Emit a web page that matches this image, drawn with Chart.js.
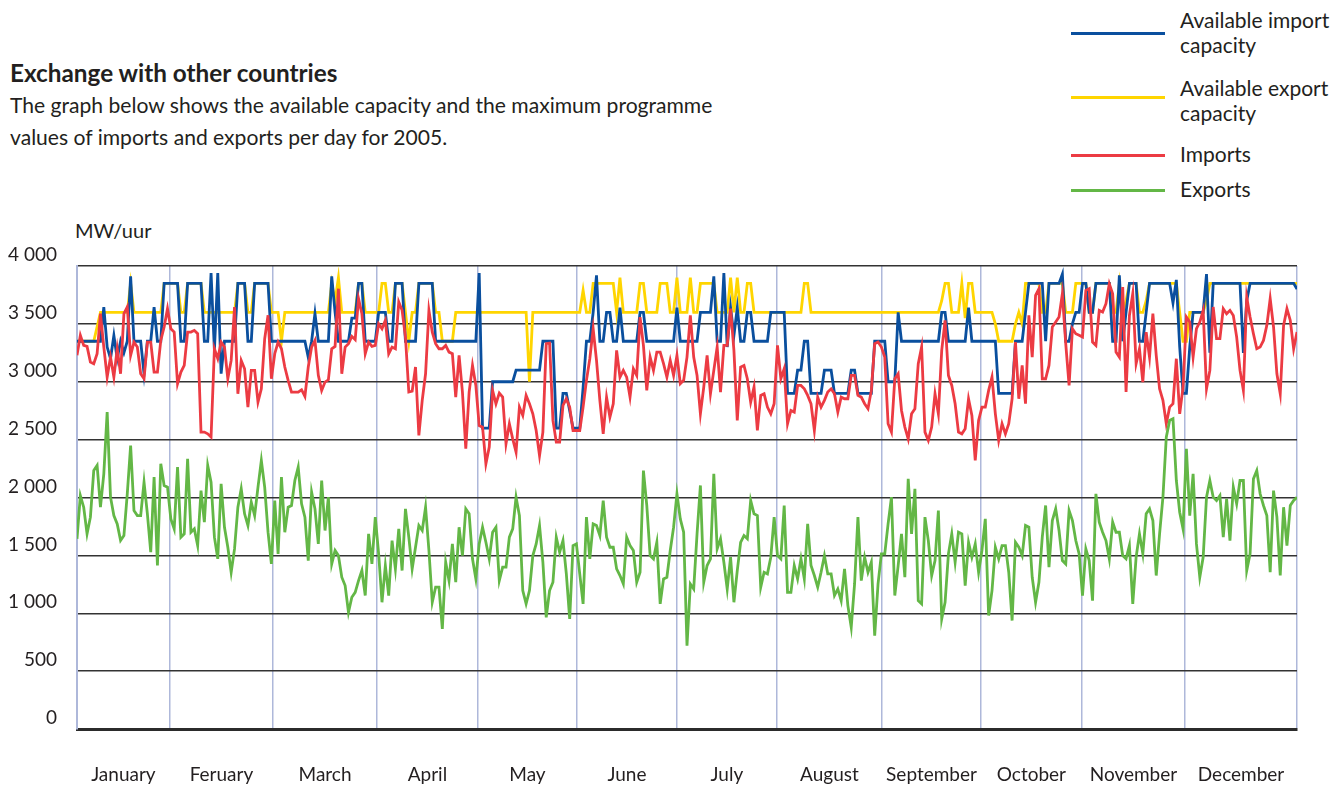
<!DOCTYPE html>
<html>
<head>
<meta charset="utf-8">
<script src="https://cdn.jsdelivr.net/npm/chart.js@4.4.1/dist/chart.umd.min.js"></script>
<style>
  html, body { margin: 0; padding: 0; background: #fff; }
  body { width: 1341px; height: 787px; position: relative; overflow: hidden;
         font-family: 'Lato', 'Open Sans', sans-serif; color: #231f20; }
  .abs { position: absolute; white-space: nowrap; }
  #title { left: 10px; top: 60px; font-size: 24.3px; font-weight: bold; line-height: 26px; }
  #sub { left: 10px; top: 89px; font-size: 21.1px; line-height: 32px; }
  #unit { left: 75px; top: 218px; font-size: 20px; line-height: 24px; }
  .lg-line { position: absolute; left: 1071px; width: 94px; height: 3px; }
  .lg-text { position: absolute; left: 1180px; font-size: 21px; line-height: 25px; white-space: nowrap; }
  #wrap { position: absolute; left: 0; top: 240px; width: 1341px; height: 547px; }
</style>
</head>
<body>
<div id="title" class="abs">Exchange with other countries</div>
<div id="sub" class="abs">The graph below shows the available capacity and the maximum programme<br>values of imports and exports per day for 2005.</div>
<div id="unit" class="abs">MW/uur</div>

<div class="lg-line" style="top:32px;background:#0a4f9e"></div>
<div class="lg-text" style="top:7px">Available import<br>capacity</div>
<div class="lg-line" style="top:96px;background:#ffd500"></div>
<div class="lg-text" style="top:75px">Available export<br>capacity</div>
<div class="lg-line" style="top:154px;background:#ec3b43"></div>
<div class="lg-text" style="top:141px">Imports</div>
<div class="lg-line" style="top:189px;background:#63b746"></div>
<div class="lg-text" style="top:176px">Exports</div>

<div id="wrap"><canvas id="c" width="1341" height="547"></canvas></div>

<script>
// ---- Data (MW per hour, daily values for 2005, day index 0..364) ----
const months = ['January','Feruary','March','April','May','June','July','August','September','October','November','December'];
// Month divider positions (in day units) as drawn in the reference
const monthEdges = [0, 27.7, 58.5, 89.5, 119.6, 149.2, 179, 208.8, 240.2, 269.7, 299.8, 330.6, 364];
const yTicks = [0, 500, 1000, 1500, 2000, 2500, 3000, 3500, 4000];

const importCapacity = [
3350,3350,3350,3350,3350,3350,3350,3350,3645,3300,3200,3400,3200,3350,3250,3350,3910,
3350,3350,3350,3070,3350,3350,3645,3350,3350,
3850,3850,3850,3850,3850,3350,3350,
3850,3850,3850,3850,3850,3350,3350,3940,3270,3940,3070,
3350,3350,3350,3350,3850,3850,3850,3350,3350,
3850,3850,3850,3850,3850,3350,3350,3350,
3350,3350,3350,3350,3350,3350,3350,3350,3210,3350,
3590,3350,3350,3350,3350,3910,3600,3350,3350,3350,
3350,3550,3550,3850,3850,3350,3350,3350,3350,3600,
3600,3600,3350,3350,3850,3850,3850,3350,3350,3350,
3350,3850,3850,3850,3850,3850,3350,3350,3350,3350,
3350,3350,3350,3350,3350,3350,3350,3350,3350,3940,
2600,2600,2600,3000,3000,3000,3000,3000,3000,3000,
3100,3100,3100,3100,3100,3100,3100,3100,3350,3350,
3350,3350,2600,2600,2900,2900,2750,2600,2600,2600,
2950,3350,3350,3600,3920,3350,3350,3600,3600,3350,
3350,3640,3350,3350,3350,3350,3350,3600,3600,3350,
3350,3350,3350,3350,3350,3350,3350,3350,3640,3350,
3350,3350,3350,3350,3350,3600,3600,3600,3600,3910,
3350,3350,3940,3300,3640,3400,3640,3350,3350,3600,
3600,3350,3350,3350,3350,3350,3600,3600,3600,3600,
3600,2900,2900,2900,3100,3100,3350,3350,2900,2900,
2900,2900,3100,3100,3100,2900,2900,2900,2900,2900,
3100,3100,2900,2900,2900,2900,2900,3350,3350,3350,
3350,3000,3000,3000,3600,3350,3350,3350,3350,3350,
3350,3350,3350,3350,3350,3350,3350,3600,3600,3350,
3350,3350,3350,3350,3350,3640,3350,3350,3350,3350,
3350,3350,3350,3350,2900,2900,2900,2900,2900,3350,
3350,3350,3600,3850,3850,3850,3850,3850,3350,3850,
3850,3850,3850,3930,3350,3350,3500,3600,3600,3850,
3850,3600,3600,3850,3850,3850,3850,3850,3350,3350,
3920,3350,3600,3850,3850,3850,3350,3350,3600,3850,
3850,3850,3850,3850,3850,3850,3680,3880,3300,2900,
2900,3300,3600,3600,3600,3600,3930,3250,3850,3850,
3850,3850,3850,3850,3850,3850,3850,3250,3700,3850,
3850,3850,3850,3850,3850,3850,3850,3850,3850,3850,
3850,3850,3850,3800
];

const exportCapacity = [
3350,3350,3350,3350,3350,3350,3475,3600,3600,3600,
3600,3600,3600,3600,3600,3600,3850,3600,3600,3600,
3600,3600,3600,3600,3600,3600,3850,3850,3850,3850,
3850,3600,3600,3850,3850,3850,3850,3850,3600,3600,
3600,3600,3600,3600,3600,3600,3600,3600,3850,3850,
3850,3600,3600,3850,3850,3850,3850,3850,3600,3600,
3600,3350,3600,3600,3600,3600,3600,3600,3600,3600,
3600,3600,3600,3600,3600,3600,3850,3700,3900,3600,
3600,3600,3600,3600,3850,3850,3600,3600,3600,3600,
3600,3850,3850,3600,3600,3850,3850,3850,3600,3350,
3600,3600,3850,3850,3850,3850,3850,3600,3600,3350,
3350,3350,3350,3600,3600,3600,3600,3600,3600,3600,
3600,3600,3600,3600,3600,3600,3600,3600,3600,3600,
3600,3600,3600,3600,3600,3000,3600,3600,3600,3600,
3600,3600,3600,3600,3600,3600,3600,3600,3600,3600,
3600,3790,3600,3600,3850,3850,3850,3850,3850,3850,
3850,3600,3900,3600,3600,3600,3600,3600,3850,3850,
3600,3600,3600,3600,3850,3850,3850,3600,3600,3900,
3600,3600,3600,3900,3600,3600,3850,3850,3850,3850,
3850,3600,3600,3600,3600,3900,3600,3900,3600,3600,
3850,3850,3600,3600,3600,3600,3600,3600,3600,3600,
3600,3600,3600,3600,3600,3600,3600,3850,3850,3600,
3600,3600,3600,3600,3600,3600,3600,3600,3600,3600,
3600,3600,3600,3600,3600,3600,3600,3600,3600,3600,
3600,3600,3600,3600,3600,3600,3600,3600,3600,3600,
3600,3600,3600,3600,3600,3600,3600,3600,3700,3850,
3850,3600,3600,3600,3850,3550,3850,3850,3600,3600,
3600,3600,3600,3600,3500,3350,3350,3350,3350,3350,
3500,3600,3500,3850,3850,3850,3850,3850,3600,3600,
3850,3850,3850,3850,3850,3600,3600,3600,3850,3850,
3850,3850,3600,3600,3850,3850,3850,3850,3850,3600,
3600,3850,3600,3700,3850,3850,3850,3600,3600,3700,
3850,3850,3850,3850,3850,3850,3850,3850,3850,3600,
3350,3350,3600,3600,3600,3600,3600,3700,3850,3850,
3850,3850,3850,3850,3850,3850,3850,3850,3850,3850,
3850,3850,3850,3850,3850,3850,3850,3850,3850,3850,
3850,3850,3850,3850,3850
];

const imports = [
3228,3401,3314,3305,3170,3156,3242,3588,3300,3040,
3213,3040,3285,3069,3588,3646,3228,3343,3300,3069,
3026,3343,3343,3084,3084,3357,3473,3631,3458,3429,
2983,3084,3141,3429,3429,3444,3415,2565,2565,2550,
2522,3285,3199,3343,3300,3026,3184,3646,2896,3184,
3112,2781,3098,3098,2824,2939,3372,3574,3026,3242,
3343,
3285,3127,3012,2911,2911,2911,2931,2873,3127,3300,
3357,3055,2925,2997,3017,3285,3305,3804,3069,3300,
3329,3392,3363,3718,3588,3242,3343,3305,3314,3501,
3458,3530,3242,3300,3285,3689,3617,3386,2911,2919,
3127,2536,2839,3069,3617,3429,3329,3285,3285,3314,
3256,3242,2867,3228,2911,2421,2911,3141,2968,2622,
2608,2291,2435,2925,2810,2902,2867,2464,2637,2507,
2392,2781,2709,2882,2810,2723,2579,2363,2565,3329,
3334,2666,2478,2478,2795,2853,2781,2579,2579,2579,
2781,3012,3199,3458,3184,2839,2550,2867,2694,2810,
3271,3040,3098,3040,2867,3112,3055,3559,3314,2925,
3213,3098,3256,3256,3156,3040,3184,3055,3228,2983,
3012,3213,3573,3213,3055,2723,2954,3228,2896,3098,
3300,2911,3314,3314,3631,3271,2666,3127,3141,3026,
2824,2954,2579,2882,2896,2781,2723,2810,3314,3026,
3112,2637,2752,2738,2968,2968,2939,2882,2810,2579,
2867,2781,2839,2911,2939,2896,2738,2867,2853,2853,
3055,3055,2882,2867,2810,2767,2925,3329,3343,3300,
3213,2637,2565,3026,3069,2752,2608,2507,2723,2767,
3156,3300,2565,2493,2608,2896,2723,3271,3530,3055,
2968,2810,2565,2550,2594,2853,2709,2320,2666,2781,
2781,2925,3040,2723,2493,2637,2550,2637,2853,3343,
2853,3141,2810,3573,3213,3746,3804,3026,3026,3141,
3473,3516,3559,3761,3329,2968,3458,3415,3401,
3386,3790,3804,3343,3314,3617,3602,3674,3847,3761,
3256,3213,3818,2911,3573,3761,3156,3285,2997,3429,
3213,3588,3228,2939,2839,2637,2781,2810,3199,2723,
2954,3559,3516,3213,3458,3516,3617,2939,3098,3646,
3372,3372,3631,3588,3617,3573,3386,3098,2925,3732,
3559,3415,3285,3300,3357,3487,3718,3473,3069,2896,
3487,3631,3530,3285,3429
];

const exports = [
1643,2017,1916,1686,1830,2233,2277,1916,2205,2738,
2003,1844,1772,1628,1671,2032,2449,1887,1844,1844,
2133,1859,1527,2176,1412,2291,2104,2089,1815,1729,
2262,1657,1686,2334,1700,1729,1585,2060,1787,2277,
2133,1657,1470,2118,1743,1570,1354,1556,1916,2075,
1859,1758,1959,1844,2089,2320,2089,1700,1426,1974,
1513,
2176,1700,1916,1931,2147,2262,1945,1830,1455,2046,
1902,1599,2147,1715,2003,1426,1542,1498,1311,1239,
1008,1138,1181,1282,1369,1153,1686,1426,1830,1513,
1095,1412,1153,1628,1383,1729,1369,1902,1657,1383,
1570,1758,1715,1916,1542,1095,1225,1225,864,1441,
1282,1599,1268,1743,1498,1902,1859,1470,1297,1599,
1743,1613,1470,1700,1743,1282,1398,1398,1657,1729,
2003,1844,1196,1081,1196,1498,1599,1758,1441,965,
1196,1268,1657,1527,1628,1340,951,1585,1599,1340,
1081,1830,1470,1772,1758,1671,1974,1657,1570,1570,
1383,1326,1254,1657,1585,1542,1268,1354,2233,1931,
1498,1470,1613,1081,1297,1311,1542,1743,2032,1815,
1700,720,1253,1210,1686,2104,1268,1412,1470,2205,
1556,1643,1441,1210,1484,1095,1369,1613,1671,1643,
1974,1859,1844,1225,1354,1340,1484,1830,1498,1470,
1931,1181,1181,1412,1297,1470,1297,1772,1412,1326,
1225,1354,1498,1340,1340,1153,1210,1109,1383,1066,
879,1253,1830,1282,1484,1354,1441,807,1253,1513,
1513,1772,2003,1153,1412,1686,1311,2161,1686,2075,
1109,1081,1830,1628,1326,1455,1887,951,1095,1513,
1686,1441,1700,1686,1239,1613,1484,1599,1354,1542,
1815,980,1196,1570,1470,1585,1585,1354,937,1613,
1570,1498,1758,1743,1311,1095,1268,1657,1931,1398,
1801,1902,1715,1455,1426,1887,1801,1628,1513,
1153,1556,1455,1109,2032,1787,1700,1628,1470,1787,
1700,1700,1498,1470,1585,1081,1484,1686,1513,1859,
1902,1801,1326,1686,2003,2521,2666,2680,2147,1873,
1729,2421,1844,2205,1599,1311,1484,2003,2147,2003,
1974,2017,1657,1988,1628,2089,1945,2147,2147,1369,
1513,2161,2233,2032,1931,1844,1354,2060,1830,1326,
1916,1585,1931,1974,2003
];

// ---- Build chart ----
const toPoints = arr => arr.map((v, i) => ({ x: i, y: v }));
const monthMids = months.map((m, i) => (monthEdges[i] + monthEdges[i + 1]) / 2);
const fmt = v => v >= 1000 ? Math.floor(v / 1000) + ' ' + String(v % 1000).padStart(3, '0') : String(v);

const FONT = "'Lato', 'Open Sans', sans-serif";
const lineDs = (label, data, color, order) => ({
  label, data: toPoints(data), borderColor: color, backgroundColor: color,
  borderWidth: 2.8, pointRadius: 0, tension: 0, fill: false, order,
  borderJoinStyle: 'miter'
});

new Chart(document.getElementById('c'), {
  type: 'line',
  data: {
    datasets: [
      lineDs('Exports', exports, '#63b746', 0),
      lineDs('Imports', imports, '#ec3b43', 1),
      lineDs('Available import capacity', importCapacity, '#0a4f9e', 2),
      lineDs('Available export capacity', exportCapacity, '#ffd500', 3)
    ]
  },
  options: {
    responsive: false,
    animation: false,
    devicePixelRatio: 1,
    layout: { padding: { top: 26, right: 44, left: 0, bottom: 0 } },
    plugins: { legend: { display: false }, tooltip: { enabled: false } },
    scales: {
      x: {
        type: 'linear', min: 0, max: 364,
        afterBuildTicks: s => {
          s.ticks = monthEdges.map(v => ({ value: v }))
            .concat(monthMids.map(v => ({ value: v })))
            .sort((a, b) => a.value - b.value);
        },
        afterFit: s => { s.height = 58; s.paddingLeft = 0; s.paddingRight = 0; },
        grid: {
          drawTicks: false,
          color: ctx => (ctx.tick && monthEdges.includes(ctx.tick.value)) ? '#aeb8da' : 'rgba(0,0,0,0)',
          lineWidth: 1.5
        },
        border: { display: true, color: '#2b2b2b', width: 3 },
        ticks: {
          autoSkip: false, maxRotation: 0, padding: 34,
          color: '#231f20', font: { family: FONT, size: 19 },
          callback: v => { const i = monthMids.indexOf(v); return i >= 0 ? months[i] : ''; }
        }
      },
      y: {
        type: 'linear', min: 0, max: 4000,
        afterBuildTicks: s => { s.ticks = yTicks.map(v => ({ value: v })); },
        afterFit: s => { s.width = 77; s.paddingTop = 0; s.paddingBottom = 0; },
        grid: { drawTicks: false, color: '#333333', lineWidth: 1.5 },
        border: { display: true, color: '#aeb8da', width: 2 },
        ticks: {
          padding: 20, labelOffset: -11,
          color: '#231f20', font: { family: FONT, size: 19 },
          callback: v => fmt(v)
        }
      }
    }
  }
});
</script>
</body>
</html>
